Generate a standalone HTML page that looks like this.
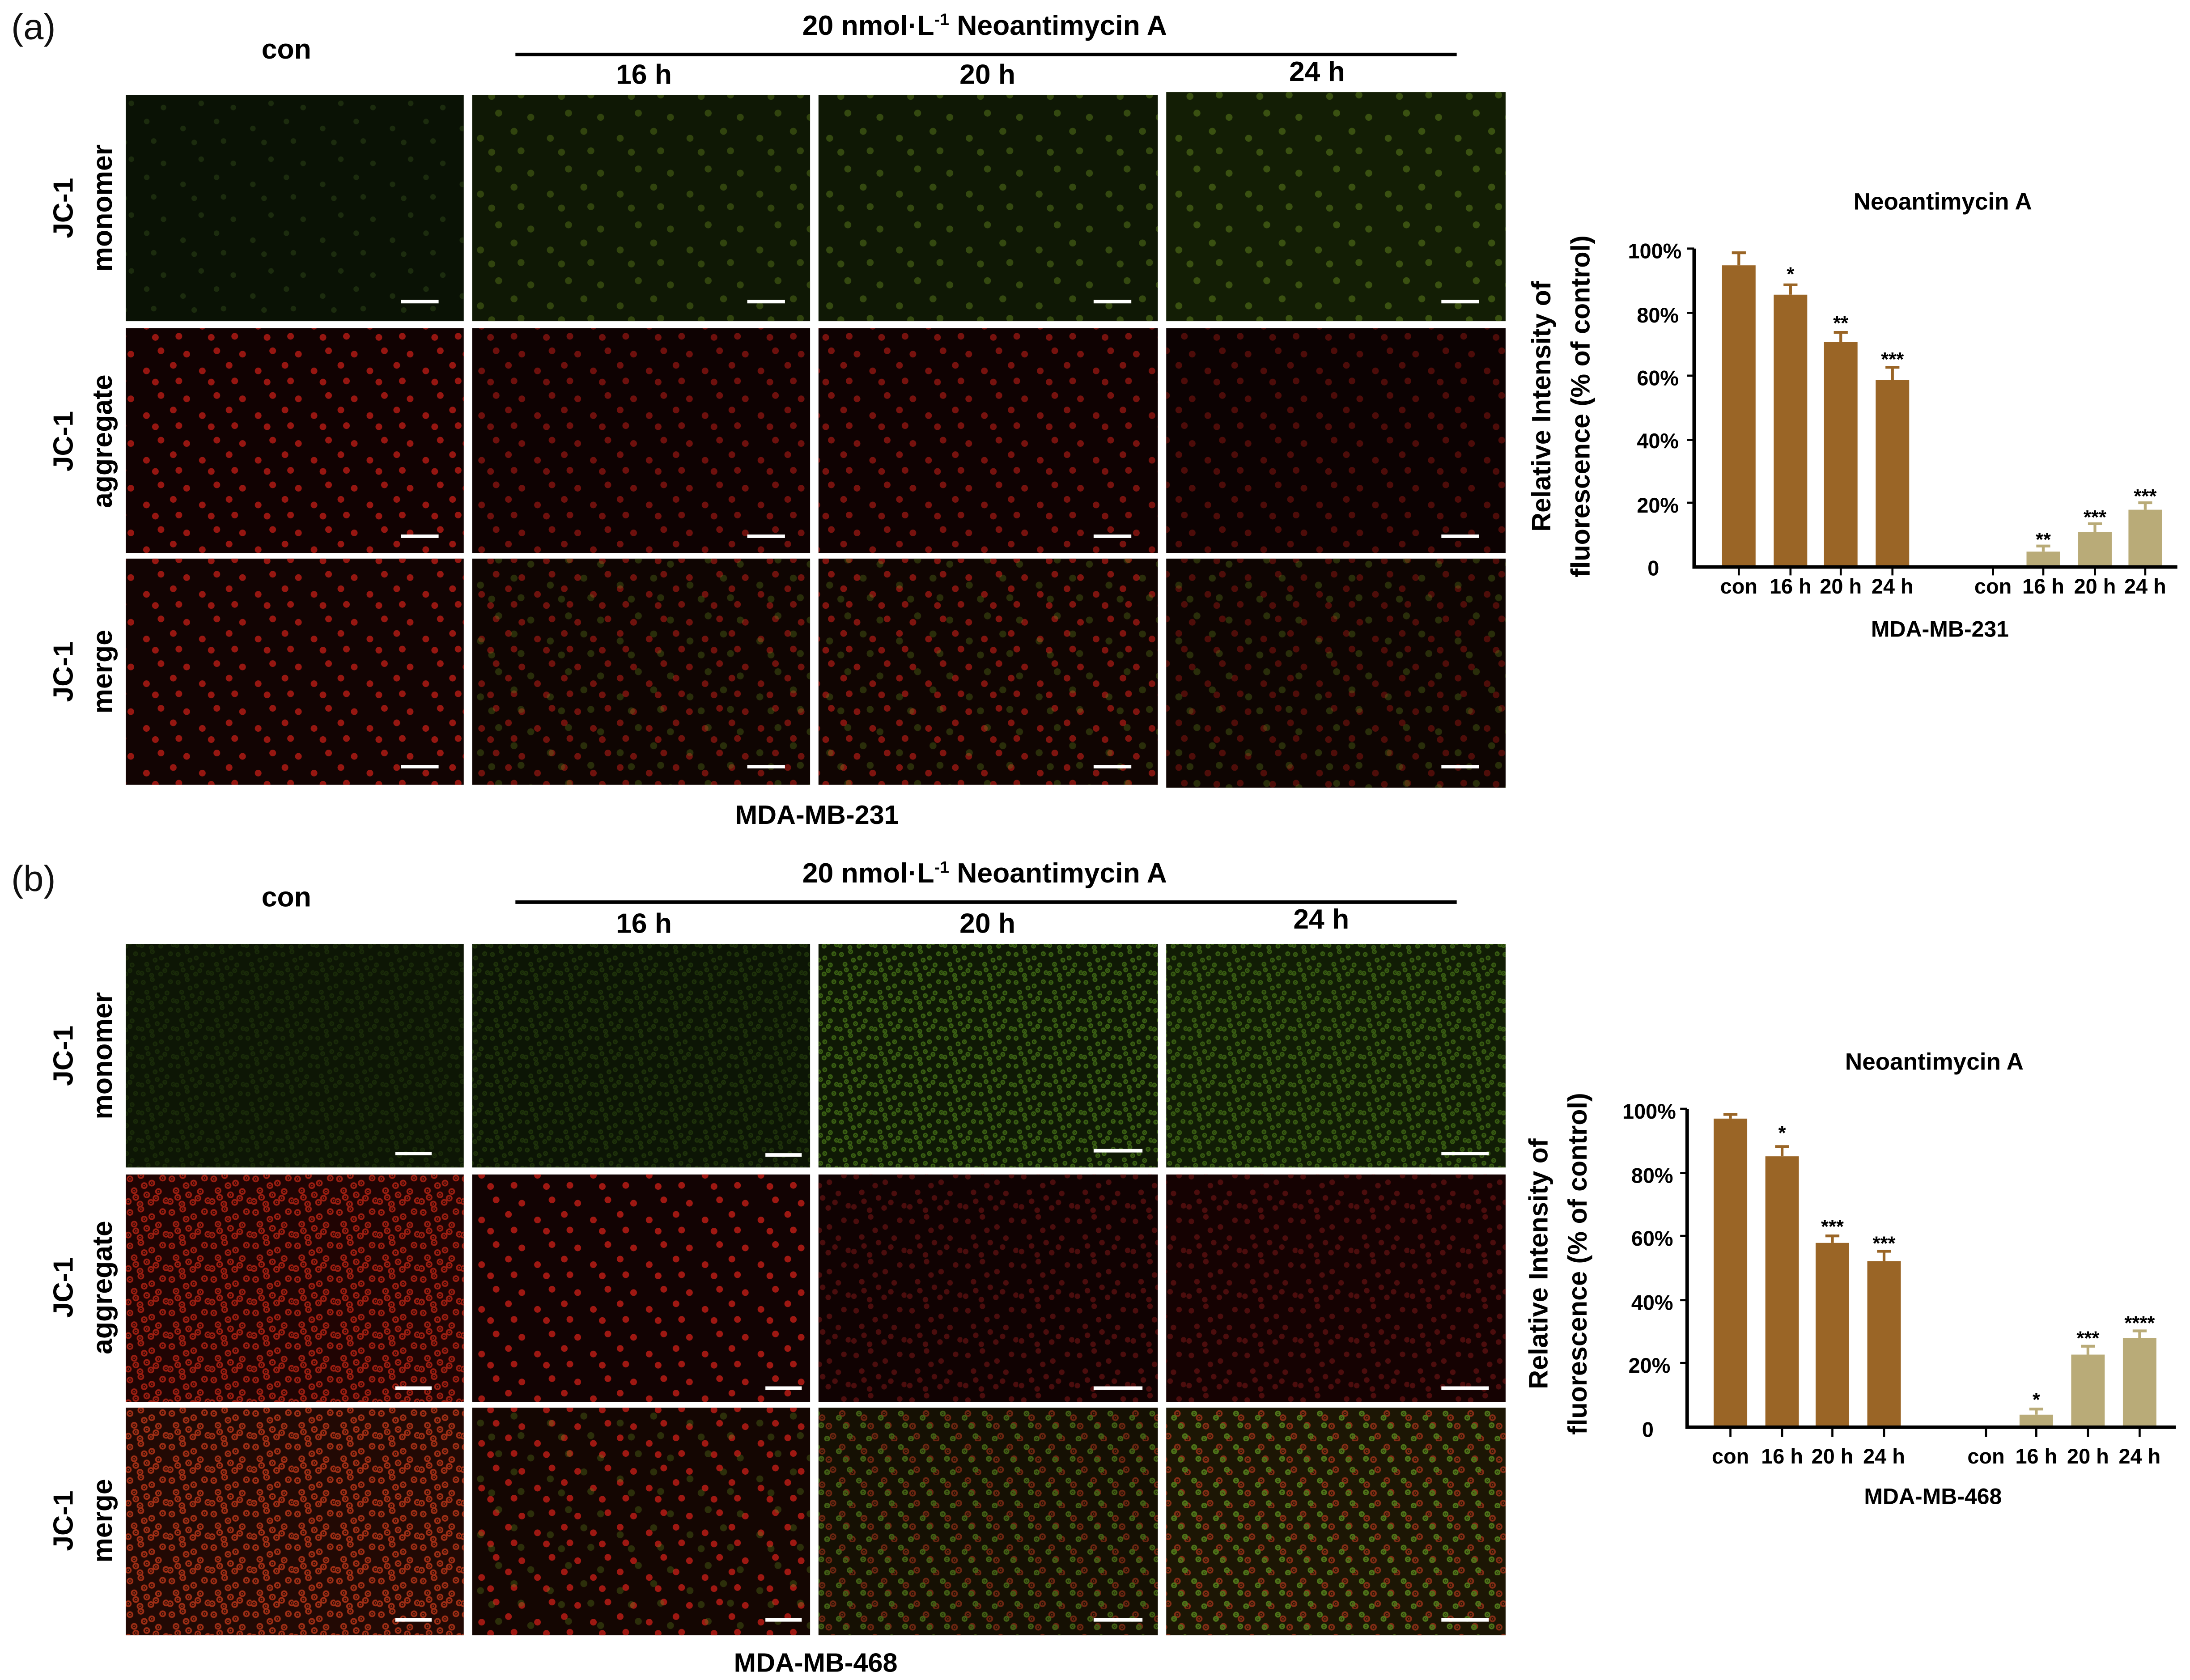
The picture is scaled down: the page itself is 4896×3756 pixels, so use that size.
<!DOCTYPE html>
<html><head><meta charset="utf-8"><style>html,body{margin:0;padding:0;background:#fff}svg{display:block}</style></head>
<body>
<svg width="4896" height="3756" viewBox="0 0 1568 1203" xmlns="http://www.w3.org/2000/svg" font-family="Liberation Sans, sans-serif">
<defs>
<g id="dots">
<circle cx="5" cy="7" r="1"/><circle cx="18" cy="3" r="1"/><circle cx="31" cy="12" r="1"/><circle cx="44" cy="6" r="1"/><circle cx="10" cy="21" r="1"/><circle cx="25" cy="26" r="1"/><circle cx="39" cy="22" r="1"/><circle cx="48" cy="33" r="1"/><circle cx="3" cy="34" r="1"/><circle cx="17" cy="37" r="1"/><circle cx="30" cy="35" r="1"/><circle cx="22" cy="15" r="1"/><circle cx="36" cy="30" r="1"/><circle cx="12" cy="29" r="1"/>
</g>
<g id="sdots">
<circle cx="5" cy="7" r="1"/><circle cx="31" cy="12" r="1"/><circle cx="10" cy="21" r="1"/><circle cx="39" cy="22" r="1"/><circle cx="17" cy="37" r="1"/><circle cx="44" cy="34" r="1"/>
</g>
<pattern id="gdim" width="50" height="40" patternUnits="userSpaceOnUse"><use href="#sdots" fill="#34501a" stroke="#34501a" stroke-width="2" opacity=".7"/></pattern>
<pattern id="gmid" width="50" height="40" patternUnits="userSpaceOnUse" patternTransform="translate(13,7)"><use href="#sdots" fill="#5a7a1a" stroke="#5a7a1a" stroke-width="3"/></pattern>
<pattern id="gdense" width="25" height="20" patternUnits="userSpaceOnUse"><g transform="scale(.5)"><use href="#dots" fill="#5e9a1e" stroke="#5e9a1e" stroke-width="5"/></g></pattern>
<pattern id="rsp" width="40" height="32" patternUnits="userSpaceOnUse"><g transform="scale(.8)"><use href="#sdots" fill="#b01a14" stroke="#b01a14" stroke-width="4"/></g></pattern>
<pattern id="rdim" width="40" height="32" patternUnits="userSpaceOnUse" patternTransform="translate(9,5)"><g transform="scale(.8)"><use href="#dots" fill="#5a1010" stroke="#5a1010" stroke-width="3"/></g></pattern>
<pattern id="rdense" width="30" height="24" patternUnits="userSpaceOnUse"><g transform="scale(.6)"><use href="#dots" fill="#c42616" stroke="#c42616" stroke-width="6"/></g></pattern>
<pattern id="mred" width="30" height="24" patternUnits="userSpaceOnUse"><g transform="scale(.6)"><use href="#dots" fill="#c83a1a" stroke="#c83a1a" stroke-width="6"/></g></pattern>
<pattern id="mmix" width="30" height="24" patternUnits="userSpaceOnUse"><g transform="scale(.6)"><use href="#sdots" fill="#a8341a" stroke="#a8341a" stroke-width="6"/><use href="#sdots" transform="translate(20,0)" fill="#5e9420" stroke="#5e9420" stroke-width="5"/><use href="#sdots" transform="translate(-30,0)" fill="#5e9420" stroke="#5e9420" stroke-width="5"/></g></pattern>
</defs>
<rect width="1568" height="1203" fill="#fff"/>

<text x="8" y="28" font-size="26" fill="#111">(a)</text>
<text x="205" y="42" font-size="20" font-weight="bold" text-anchor="middle">con</text>
<text x="705" y="25" font-size="20" font-weight="bold" text-anchor="middle">20 nmol·L<tspan font-size="12" dy="-7">-1</tspan><tspan dy="7"> Neoantimycin A</tspan></text>
<line x1="369" y1="39" x2="1043" y2="39" stroke="#000" stroke-width="2.5"/>
<text x="461" y="60" font-size="20" font-weight="bold" text-anchor="middle">16 h</text>
<text x="707" y="60" font-size="20" font-weight="bold" text-anchor="middle">20 h</text>
<text x="943" y="58" font-size="20" font-weight="bold" text-anchor="middle">24 h</text>
<g font-size="20" font-weight="bold" text-anchor="middle">
<text transform="translate(52,149) rotate(-90)">JC-1</text><text transform="translate(80,149) rotate(-90)">monomer</text>
<text transform="translate(52,316) rotate(-90)">JC-1</text><text transform="translate(80,316) rotate(-90)">aggregate</text>
<text transform="translate(52,481) rotate(-90)">JC-1</text><text transform="translate(80,481) rotate(-90)">merge</text>
</g>
<g>
<rect x="90" y="68" width="242" height="162" fill="#0a1205"/><rect x="90" y="68" width="242" height="162" fill="url(#gdim)" opacity=".6"/>
<rect x="338" y="68" width="242" height="162" fill="#0f1805"/><rect x="338" y="68" width="242" height="162" fill="url(#gmid)" opacity=".45"/>
<rect x="586" y="68" width="243" height="162" fill="#0f1805"/><rect x="586" y="68" width="243" height="162" fill="url(#gmid)" opacity=".5"/>
<rect x="835" y="66" width="243" height="164" fill="#131e05"/><rect x="835" y="66" width="243" height="164" fill="url(#gmid)" opacity=".55"/>

<rect x="90" y="235" width="242" height="161" fill="#110202"/><rect x="90" y="235" width="242" height="161" fill="url(#rsp)" opacity=".85"/>
<rect x="338" y="235" width="242" height="161" fill="#0e0202"/><rect x="338" y="235" width="242" height="161" fill="url(#rsp)" opacity=".6"/>
<rect x="586" y="235" width="243" height="161" fill="#0f0202"/><rect x="586" y="235" width="243" height="161" fill="url(#rsp)" opacity=".65"/>
<rect x="835" y="235" width="243" height="161" fill="#0c0202"/><rect x="835" y="235" width="243" height="161" fill="url(#rsp)" opacity=".4"/>

<rect x="90" y="400" width="242" height="162" fill="#120403"/><rect x="90" y="400" width="242" height="162" fill="url(#rsp)" opacity=".85"/>
<rect x="338" y="400" width="242" height="162" fill="#0f0502"/><rect x="338" y="400" width="242" height="162" fill="url(#rsp)" opacity=".6"/><rect x="338" y="400" width="242" height="162" fill="url(#gmid)" opacity=".35"/>
<rect x="586" y="400" width="243" height="162" fill="#100502"/><rect x="586" y="400" width="243" height="162" fill="url(#rsp)" opacity=".7"/><rect x="586" y="400" width="243" height="162" fill="url(#gmid)" opacity=".35"/>
<rect x="835" y="400" width="243" height="164" fill="#0e0502"/><rect x="835" y="400" width="243" height="164" fill="url(#rsp)" opacity=".4"/><rect x="835" y="400" width="243" height="164" fill="url(#gmid)" opacity=".35"/>
</g>
<g stroke="#fff" stroke-width="2.5">
<line x1="287" y1="216" x2="314" y2="216"/><line x1="535" y1="216" x2="562" y2="216"/><line x1="783" y1="216" x2="810" y2="216"/><line x1="1032" y1="216" x2="1059" y2="216"/>
<line x1="287" y1="384" x2="314" y2="384"/><line x1="535" y1="384" x2="562" y2="384"/><line x1="783" y1="384" x2="810" y2="384"/><line x1="1032" y1="384" x2="1059" y2="384"/>
<line x1="287" y1="549" x2="314" y2="549"/><line x1="535" y1="549" x2="562" y2="549"/><line x1="783" y1="549" x2="810" y2="549"/><line x1="1032" y1="549" x2="1059" y2="549"/>
</g>
<text x="585" y="590" font-size="19" font-weight="bold" text-anchor="middle">MDA-MB-231</text>

<g font-weight="bold">
<text x="1391" y="150" font-size="17" text-anchor="middle">Neoantimycin A</text>
<text transform="translate(1110,291) rotate(-90)" font-size="19" text-anchor="middle">Relative Intensity of</text>
<text transform="translate(1138,291) rotate(-90)" font-size="19" text-anchor="middle">fluorescence (% of control)</text>
<g font-size="15" text-anchor="end">
<text x="1204" y="185">100%</text><text x="1202" y="231">80%</text><text x="1202" y="276">60%</text><text x="1202" y="321">40%</text><text x="1202" y="367">20%</text><text x="1188" y="412">0</text>
</g>
<g fill="#9a6526">
<rect x="1233" y="190" width="24" height="216"/><rect x="1270" y="211" width="24" height="195"/><rect x="1306" y="245" width="24" height="161"/><rect x="1343" y="272" width="24" height="134"/>
</g>
<g fill="#b9ab78">
<rect x="1451" y="395" width="24" height="11"/><rect x="1488" y="381" width="24" height="25"/><rect x="1524" y="365" width="24" height="41"/>
</g>
<g stroke="#9a6526" stroke-width="2"><path d="M1245 190V181M1240 181h10M1282 211V204M1277 204h10M1318 245V238M1313 238h10M1355 272V263M1350 263h10"/></g>
<g stroke="#b9ab78" stroke-width="2"><path d="M1463 395V391M1458 391h10M1500 381V375M1495 375h10M1536 365V360M1531 360h10"/></g>
<path d="M1213 178V406H1559" stroke="#000" stroke-width="2.5" fill="none"/>
<g stroke="#000" stroke-width="1.5"><path d="M1208 178h5M1208 224h5M1208 269h5M1208 315h5M1208 360h5M1245 406v6M1282 406v6M1318 406v6M1355 406v6M1427 406v6M1463 406v6M1500 406v6M1536 406v6"/></g>
<g font-size="14" text-anchor="middle"><text x="1282" y="201">*</text><text x="1318" y="236">**</text><text x="1355" y="262">***</text><text x="1463" y="391">**</text><text x="1500" y="375">***</text><text x="1536" y="360">***</text></g>
<g font-size="15" text-anchor="middle"><text x="1245" y="425">con</text><text x="1282" y="425">16 h</text><text x="1318" y="425">20 h</text><text x="1355" y="425">24 h</text><text x="1427" y="425">con</text><text x="1463" y="425">16 h</text><text x="1500" y="425">20 h</text><text x="1536" y="425">24 h</text></g>
<text x="1389" y="456" font-size="16" text-anchor="middle">MDA-MB-231</text>
</g>

<text x="8" y="638" font-size="26" fill="#111">(b)</text>
<text x="205" y="649" font-size="20" font-weight="bold" text-anchor="middle">con</text>
<text x="705" y="632" font-size="20" font-weight="bold" text-anchor="middle">20 nmol·L<tspan font-size="12" dy="-7">-1</tspan><tspan dy="7"> Neoantimycin A</tspan></text>
<line x1="369" y1="646" x2="1043" y2="646" stroke="#000" stroke-width="2.5"/>
<text x="461" y="668" font-size="20" font-weight="bold" text-anchor="middle">16 h</text>
<text x="707" y="668" font-size="20" font-weight="bold" text-anchor="middle">20 h</text>
<text x="946" y="665" font-size="20" font-weight="bold" text-anchor="middle">24 h</text>
<g font-size="20" font-weight="bold" text-anchor="middle">
<text transform="translate(52,756) rotate(-90)">JC-1</text><text transform="translate(80,756) rotate(-90)">monomer</text>
<text transform="translate(52,922) rotate(-90)">JC-1</text><text transform="translate(80,922) rotate(-90)">aggregate</text>
<text transform="translate(52,1089) rotate(-90)">JC-1</text><text transform="translate(80,1089) rotate(-90)">merge</text>
</g>
<g>
<rect x="90" y="676" width="242" height="160" fill="#0d1605"/><rect x="90" y="676" width="242" height="160" fill="url(#gdense)" opacity=".15"/>
<rect x="338" y="676" width="242" height="160" fill="#0c1505"/><rect x="338" y="676" width="242" height="160" fill="url(#gdense)" opacity=".22"/>
<rect x="586" y="676" width="243" height="160" fill="#0f1905"/><rect x="586" y="676" width="243" height="160" fill="url(#gdense)" opacity=".55"/>
<rect x="835" y="676" width="243" height="160" fill="#111d05"/><rect x="835" y="676" width="243" height="160" fill="url(#gdense)" opacity=".5"/>

<rect x="90" y="841" width="242" height="163" fill="#200403"/><rect x="90" y="841" width="242" height="163" fill="url(#rdense)" opacity=".75"/>
<rect x="338" y="841" width="242" height="163" fill="#120303"/><rect x="338" y="841" width="242" height="163" fill="url(#rsp)" opacity=".9"/>
<rect x="586" y="841" width="243" height="163" fill="#100202"/><rect x="586" y="841" width="243" height="163" fill="url(#rdim)" opacity=".8"/>
<rect x="835" y="841" width="243" height="163" fill="#150202"/><rect x="835" y="841" width="243" height="163" fill="url(#rdim)" opacity=".8"/>

<rect x="90" y="1008" width="242" height="163" fill="#220904"/><rect x="90" y="1008" width="242" height="163" fill="url(#mred)" opacity=".75"/>
<rect x="338" y="1008" width="242" height="163" fill="#140602"/><rect x="338" y="1008" width="242" height="163" fill="url(#rsp)" opacity=".9"/><rect x="338" y="1008" width="242" height="163" fill="url(#gmid)" opacity=".35"/>
<rect x="586" y="1008" width="243" height="163" fill="#151003"/><rect x="586" y="1008" width="243" height="163" fill="url(#mmix)" opacity=".6"/>
<rect x="835" y="1008" width="243" height="163" fill="#1c1604"/><rect x="835" y="1008" width="243" height="163" fill="url(#mmix)" opacity=".75"/>
</g>
<g stroke="#fff" stroke-width="2.5">
<line x1="283" y1="826" x2="309" y2="826"/><line x1="548" y1="827" x2="574" y2="827"/><line x1="783" y1="824" x2="818" y2="824"/><line x1="1032" y1="826" x2="1066" y2="826"/>
<line x1="283" y1="994" x2="309" y2="994"/><line x1="548" y1="994" x2="574" y2="994"/><line x1="783" y1="994" x2="818" y2="994"/><line x1="1032" y1="994" x2="1066" y2="994"/>
<line x1="283" y1="1160" x2="309" y2="1160"/><line x1="548" y1="1160" x2="574" y2="1160"/><line x1="783" y1="1160" x2="818" y2="1160"/><line x1="1032" y1="1160" x2="1066" y2="1160"/>
</g>
<text x="584" y="1197" font-size="19" font-weight="bold" text-anchor="middle">MDA-MB-468</text>

<g font-weight="bold">
<text x="1385" y="766" font-size="17" text-anchor="middle">Neoantimycin A</text>
<text transform="translate(1108,905) rotate(-90)" font-size="19" text-anchor="middle">Relative Intensity of</text>
<text transform="translate(1136,905) rotate(-90)" font-size="19" text-anchor="middle">fluorescence (% of control)</text>
<g font-size="15" text-anchor="end">
<text x="1200" y="801">100%</text><text x="1198" y="847">80%</text><text x="1198" y="892">60%</text><text x="1198" y="938">40%</text><text x="1196" y="983">20%</text><text x="1184" y="1029">0</text>
</g>
<g fill="#9a6526">
<rect x="1227" y="801" width="24" height="221"/><rect x="1264" y="828" width="24" height="194"/><rect x="1300" y="890" width="24" height="132"/><rect x="1337" y="903" width="24" height="119"/>
</g>
<g fill="#b9ab78">
<rect x="1446" y="1013" width="24" height="9"/><rect x="1483" y="970" width="24" height="52"/><rect x="1520" y="958" width="24" height="64"/>
</g>
<g stroke="#9a6526" stroke-width="2"><path d="M1239 801V798M1234 798h10M1276 828V821M1271 821h10M1312 890V885M1307 885h10M1349 903V896M1344 896h10"/></g>
<g stroke="#b9ab78" stroke-width="2"><path d="M1458 1013V1009M1453 1009h10M1495 970V964M1490 964h10M1532 958V953M1527 953h10"/></g>
<path d="M1208 794V1022H1558" stroke="#000" stroke-width="2.5" fill="none"/>
<g stroke="#000" stroke-width="1.5"><path d="M1203 794h5M1203 840h5M1203 885h5M1203 931h5M1203 976h5M1239 1022v7M1276 1022v7M1312 1022v7M1349 1022v7M1422 1022v7M1458 1022v7M1495 1022v7M1532 1022v7"/></g>
<g font-size="14" text-anchor="middle"><text x="1276" y="816">*</text><text x="1312" y="883">***</text><text x="1349" y="895">***</text><text x="1458" y="1007">*</text><text x="1495" y="963">***</text><text x="1532" y="952">****</text></g>
<g font-size="15" text-anchor="middle"><text x="1239" y="1048">con</text><text x="1276" y="1048">16 h</text><text x="1312" y="1048">20 h</text><text x="1349" y="1048">24 h</text><text x="1422" y="1048">con</text><text x="1458" y="1048">16 h</text><text x="1495" y="1048">20 h</text><text x="1532" y="1048">24 h</text></g>
<text x="1384" y="1077" font-size="16" text-anchor="middle">MDA-MB-468</text>
</g>
</svg>
</body></html>
